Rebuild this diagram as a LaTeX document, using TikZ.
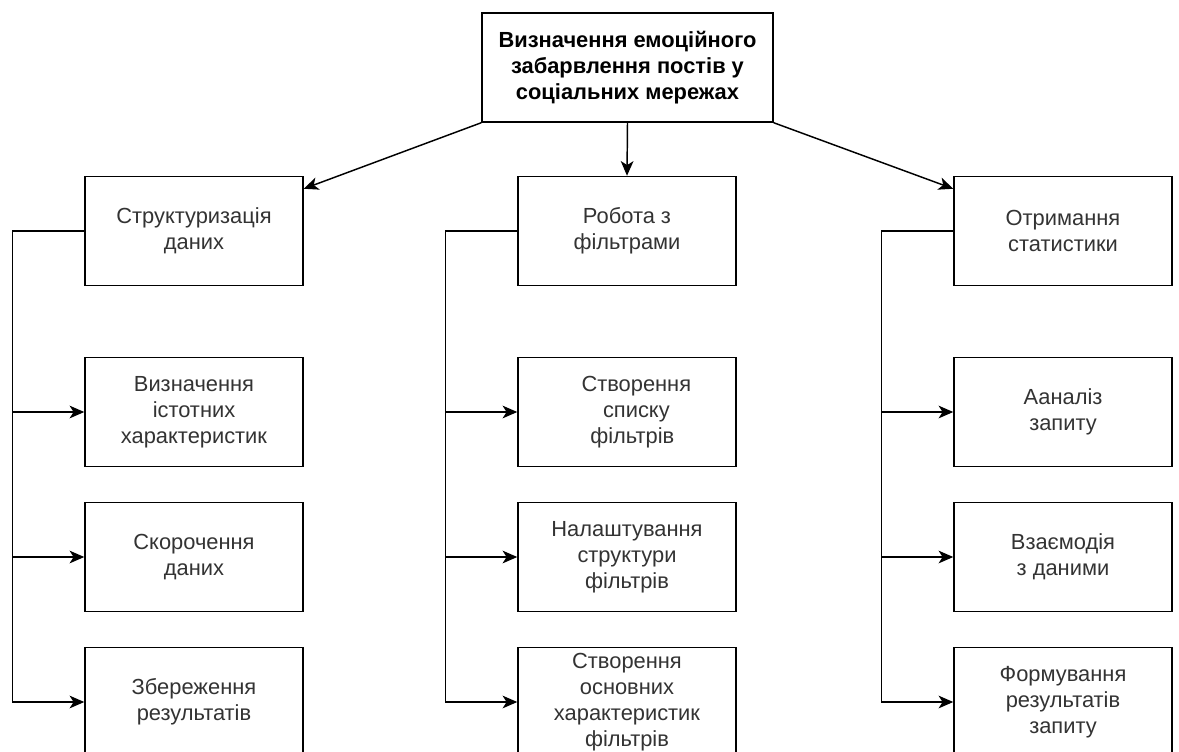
\documentclass[tikz,border=0pt]{standalone}
\usepackage{fontspec}
\setmainfont{Liberation Sans}
\usetikzlibrary{arrows.meta}

\begin{document}
\begin{tikzpicture}[x=0.75pt, y=-0.75pt]
    % Node styles
    \tikzset{box/.style={rectangle,draw,line width=1.1pt,fill=white,
        minimum width=163.5pt,minimum height=81.75pt,inner sep=2pt,
        align=center,text=black!80,font=\fontsize{16.4}{19.6}\selectfont},
      top box/.style={box,minimum width=218.25pt,text=black,
        font=\fontsize{16.4}{19.6}\selectfont\bfseries},
      arrow/.style={line width=1.1pt,-{Stealth[length=11pt,width=9.5pt,inset=3pt]}}}

    \useasboundingbox (0,0) rectangle (1179,751);
    \clip (0,0) rectangle (1179,751);

    % --- Level 0: Root ---
    \node[top box] (root) at (627.5,67.5)
      {Визначення емоційного\\забарвлення постів у\\соціальних мережах};

    % --- Level 1: Three tasks ---
    \node[box] (n1_left) at (194,231) {Структуризація\\даних};
    \node[box] (n1_mid) at (627,231) {Робота з\\фільтрами};
    \node[box] (n1_right) at (1063,231) {Отримання\\статистики};

    % Edges from root
    \draw[arrow] (root.south west) -- ([yshift=-9.75pt]n1_left.north east);
    \draw[arrow] (root.south) -- (n1_mid.north);
    \draw[arrow] (root.south east) -- ([yshift=-9.75pt]n1_right.north west);

    % --- Level 2: Subtasks ---
    % Under n1_left
    \node[box] (n2_left1) at (194,412) {Визначення\\істотних\\характеристик};
    \node[box] (n2_left2) at (194,557) {Скорочення\\даних};
    \node[box] (n2_left3) at (194,702) {Збереження\\результатів};

    % Under n1_mid
    \node[box] (n2_mid1) at (627,412) {\hspace{14pt}Створення\\\hspace{14pt}списку\\\hspace{8pt}фільтрів};
    \node[box] (n2_mid2) at (627,557) {Налаштування\\структури\\фільтрів};
    \node[box] (n2_mid3) at (627,702) {Створення\\основних\\характеристик\\фільтрів};

    % Under n1_right
    \node[box] (n2_right1) at (1063,412) {Ааналіз\\запиту};
    \node[box] (n2_right2) at (1063,557) {Взаємодія\\з даними};
    \node[box] (n2_right3) at (1063,702) {Формування\\результатів\\запиту};

    % Edges from level 1 (bus on the left of each column)
    \foreach \col in {left,mid,right}
      \foreach \i in {1,2,3}
        \draw[arrow] (n1_\col.west) -- ++(-72,0) |- (n2_\col\i.west);

  \end{tikzpicture}
\end{document}
